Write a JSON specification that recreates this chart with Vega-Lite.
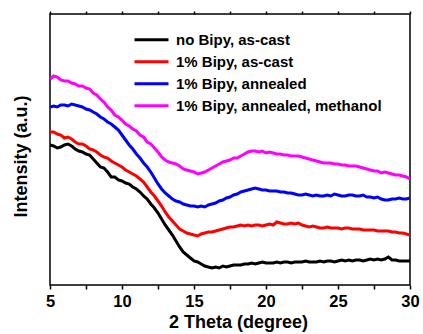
{
  "$schema": "https://vega.github.io/schema/vega-lite/v6.json",
  "width": 360,
  "height": 271,
  "autosize": "none",
  "padding": {"left": 50, "top": 14, "right": 13, "bottom": 49},
  "background": "white",
  "config": {"view": {"stroke": "#000", "strokeWidth": 1.5}, "font": "Liberation Sans"},
  "data": {"values": [
    {"x":5,"a":140,"b":153,"c":178,"d":206},
    {"x":5.25,"a":139,"b":153,"c":179,"d":209},
    {"x":5.5,"a":137,"b":151,"c":178,"d":208},
    {"x":5.75,"a":138,"b":150,"c":180,"d":205},
    {"x":6,"a":140,"b":147,"c":180,"d":204},
    {"x":6.25,"a":141,"b":148,"c":179,"d":204},
    {"x":6.5,"a":139,"b":146,"c":181,"d":202},
    {"x":6.75,"a":136,"b":143,"c":180,"d":201},
    {"x":7,"a":134,"b":141,"c":179,"d":199},
    {"x":7.25,"a":133,"b":141,"c":178,"d":199},
    {"x":7.5,"a":131,"b":139,"c":176,"d":197},
    {"x":7.75,"a":130,"b":136,"c":175,"d":196},
    {"x":8,"a":126,"b":135,"c":173,"d":192},
    {"x":8.25,"a":122,"b":133,"c":171,"d":190},
    {"x":8.5,"a":118,"b":130,"c":168,"d":186},
    {"x":8.75,"a":117,"b":128,"c":166,"d":183},
    {"x":9,"a":113,"b":127,"c":163,"d":178},
    {"x":9.25,"a":108,"b":124,"c":161,"d":175},
    {"x":9.5,"a":108,"b":122,"c":158,"d":170},
    {"x":9.75,"a":105,"b":120,"c":155,"d":168},
    {"x":10,"a":104,"b":118,"c":150,"d":165},
    {"x":10.25,"a":102,"b":115,"c":145,"d":161},
    {"x":10.5,"a":101,"b":113,"c":140,"d":159},
    {"x":10.75,"a":98,"b":111,"c":136,"d":156},
    {"x":11,"a":96,"b":109,"c":131,"d":154},
    {"x":11.25,"a":93,"b":106,"c":127,"d":150},
    {"x":11.5,"a":89,"b":103,"c":122,"d":148},
    {"x":11.75,"a":86,"b":98,"c":118,"d":143},
    {"x":12,"a":81,"b":93,"c":113,"d":141},
    {"x":12.25,"a":77,"b":89,"c":107,"d":137},
    {"x":12.5,"a":72,"b":84,"c":101,"d":133},
    {"x":12.75,"a":66,"b":79,"c":96,"d":128},
    {"x":13,"a":60,"b":73,"c":92,"d":125},
    {"x":13.25,"a":55,"b":68,"c":89,"d":123},
    {"x":13.5,"a":50,"b":64,"c":86,"d":122},
    {"x":13.75,"a":44,"b":60,"c":84,"d":121},
    {"x":14,"a":38,"b":56,"c":83,"d":119},
    {"x":14.25,"a":33,"b":54,"c":81,"d":116},
    {"x":14.5,"a":30,"b":52,"c":80,"d":115},
    {"x":14.75,"a":27,"b":51,"c":79,"d":114},
    {"x":15,"a":24,"b":50,"c":79,"d":113},
    {"x":15.25,"a":23,"b":49,"c":78,"d":111},
    {"x":15.5,"a":21,"b":51,"c":79,"d":112},
    {"x":15.75,"a":19,"b":52,"c":78,"d":113},
    {"x":16,"a":18,"b":53,"c":80,"d":115},
    {"x":16.25,"a":17,"b":53,"c":81,"d":117},
    {"x":16.5,"a":18,"b":54,"c":82,"d":119},
    {"x":16.75,"a":17,"b":55,"c":84,"d":121},
    {"x":17,"a":19,"b":56,"c":85,"d":123},
    {"x":17.25,"a":18,"b":57,"c":87,"d":124},
    {"x":17.5,"a":19,"b":58,"c":88,"d":125},
    {"x":17.75,"a":20,"b":58,"c":90,"d":127},
    {"x":18,"a":20,"b":59,"c":91,"d":127},
    {"x":18.25,"a":20,"b":60,"c":93,"d":129},
    {"x":18.5,"a":21,"b":59,"c":94,"d":131},
    {"x":18.75,"a":21,"b":60,"c":95,"d":133},
    {"x":19,"a":22,"b":59,"c":96,"d":134},
    {"x":19.25,"a":21,"b":60,"c":97,"d":134},
    {"x":19.5,"a":22,"b":60,"c":96,"d":133},
    {"x":19.75,"a":23,"b":59,"c":95,"d":134},
    {"x":20,"a":22,"b":60,"c":95,"d":132},
    {"x":20.25,"a":22,"b":61,"c":94,"d":133},
    {"x":20.5,"a":22,"b":60,"c":94,"d":132},
    {"x":20.75,"a":23,"b":63,"c":94,"d":131},
    {"x":21,"a":22,"b":62,"c":93,"d":131},
    {"x":21.25,"a":23,"b":61,"c":93,"d":130},
    {"x":21.5,"a":23,"b":61,"c":92,"d":130},
    {"x":21.75,"a":22,"b":62,"c":92,"d":129},
    {"x":22,"a":23,"b":61,"c":91,"d":129},
    {"x":22.25,"a":23,"b":62,"c":90,"d":129},
    {"x":22.5,"a":23,"b":60,"c":90,"d":128},
    {"x":22.75,"a":24,"b":59,"c":91,"d":127},
    {"x":23,"a":23,"b":58,"c":90,"d":126},
    {"x":23.25,"a":23,"b":59,"c":89,"d":125},
    {"x":23.5,"a":23,"b":58,"c":90,"d":124},
    {"x":23.75,"a":24,"b":57,"c":89,"d":123},
    {"x":24,"a":23,"b":57,"c":89,"d":122},
    {"x":24.25,"a":24,"b":58,"c":90,"d":122},
    {"x":24.5,"a":24,"b":57,"c":89,"d":122},
    {"x":24.75,"a":23,"b":57,"c":91,"d":121},
    {"x":25,"a":24,"b":57,"c":90,"d":121},
    {"x":25.25,"a":25,"b":56,"c":89,"d":120},
    {"x":25.5,"a":24,"b":57,"c":89,"d":120},
    {"x":25.75,"a":25,"b":57,"c":90,"d":119},
    {"x":26,"a":24,"b":56,"c":90,"d":119},
    {"x":26.25,"a":25,"b":56,"c":89,"d":119},
    {"x":26.5,"a":25,"b":56,"c":89,"d":118},
    {"x":26.75,"a":24,"b":55,"c":90,"d":117},
    {"x":27,"a":25,"b":55,"c":88,"d":116},
    {"x":27.25,"a":26,"b":55,"c":88,"d":115},
    {"x":27.5,"a":25,"b":55,"c":87,"d":114},
    {"x":27.75,"a":26,"b":54,"c":88,"d":114},
    {"x":28,"a":25,"b":54,"c":86,"d":112},
    {"x":28.25,"a":26,"b":54,"c":85,"d":113},
    {"x":28.5,"a":28,"b":54,"c":85,"d":112},
    {"x":28.75,"a":25,"b":53,"c":86,"d":111},
    {"x":29,"a":25,"b":53,"c":86,"d":110},
    {"x":29.25,"a":24,"b":52,"c":87,"d":110},
    {"x":29.5,"a":24,"b":52,"c":86,"d":109},
    {"x":29.75,"a":24,"b":51,"c":86,"d":108},
    {"x":30,"a":24,"b":50,"c":87,"d":106}
  ]},
  "transform": [{"fold": ["a", "b", "c", "d"], "as": ["series", "intensity"]}],
  "resolve": {"axis": {"x": "independent"}},
  "layer": [
    {
      "mark": {"type": "line", "strokeWidth": 3, "clip": true},
      "encoding": {
        "x": {"field": "x", "type": "quantitative",
          "scale": {"domain": [5, 30], "nice": false, "zero": false},
          "axis": {"orient": "bottom", "values": [5, 7.5, 10, 12.5, 15, 17.5, 20, 22.5, 25, 27.5, 30],
            "labelExpr": "datum.value % 5 === 0 ? datum.label : ''",
            "grid": false, "domain": false, "tickSize": 4, "tickWidth": 1.5, "tickColor": "#000",
            "labelFontSize": 16.5, "labelFontWeight": "bold", "labelColor": "#000", "labelPadding": 4,
            "labelFlush": false, "labelOverlap": false,
            "title": "2 Theta (degree)", "titleFontSize": 18, "titleFontWeight": "bold", "titleColor": "#000",
            "titleX": 188, "titleY": 37, "titleBaseline": "middle"}},
        "y": {"field": "intensity", "type": "quantitative",
          "scale": {"domain": [0, 271], "nice": false, "zero": false},
          "axis": {"title": "Intensity (a.u.)", "labels": false, "ticks": false, "domain": false, "grid": false,
            "titleFontSize": 18, "titleFontWeight": "bold", "titleColor": "#000",
            "titleX": -29, "titleY": 142, "titleAngle": 270, "titleBaseline": "middle", "titleAlign": "center"}},
        "color": {"field": "series", "type": "nominal",
          "scale": {"domain": ["a", "b", "c", "d"], "range": ["#000000", "#ff0000", "#0000ff", "#ff00ff"]},
          "legend": {"orient": "none", "legendX": 83, "legendY": 15, "title": null, "padding": 0,
            "symbolType": "stroke", "symbolSize": 1156, "symbolStrokeWidth": 3,
            "labelFontSize": 15, "labelFontWeight": "bold", "labelColor": "#000", "labelOffset": 6,
            "labelLimit": 400,
            "clipHeight": 21.7, "rowPadding": 0,
            "labelExpr": "{'a': 'no Bipy, as-cast', 'b': '1% Bipy, as-cast', 'c': '1% Bipy, annealed', 'd': '1% Bipy, annealed, methanol'}[datum.label]"}}
      }
    },
    {
      "mark": {"type": "line", "strokeOpacity": 0},
      "encoding": {
        "x": {"field": "x", "type": "quantitative",
          "axis": {"orient": "top", "values": [5, 7.5, 10, 12.5, 15, 17.5, 20, 22.5, 25, 27.5, 30],
            "labels": false, "grid": false, "domain": false, "tickSize": 3, "tickWidth": 1.5, "tickColor": "#000", "title": null}},
        "y": {"field": "intensity", "type": "quantitative"},
        "detail": {"field": "series", "type": "nominal"}
      }
    }
  ]
}
